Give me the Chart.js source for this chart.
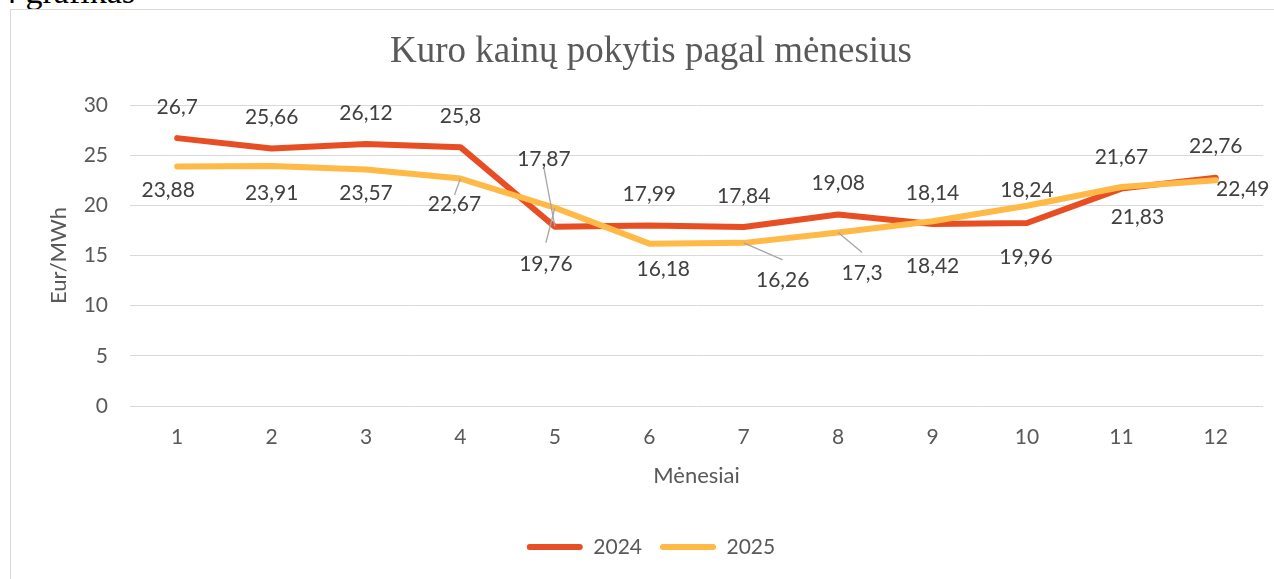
<!DOCTYPE html>
<html>
<head>
<meta charset="utf-8">
<script src="https://cdn.jsdelivr.net/npm/chart.js@4/dist/chart.umd.min.js"></script>
<style>
html,body{margin:0;padding:0;background:#fff;overflow:hidden;width:1274px;height:579px;}
#cap{position:absolute;left:0px;top:-25px;font:34px "Liberation Serif",serif;color:#000;white-space:nowrap;line-height:34px;}
#frame{position:absolute;left:10px;top:9px;width:1300px;height:620px;border:1px solid #d9d9d9;box-sizing:border-box;background:#fff;}
#wrap{position:absolute;left:0;top:0;width:1274px;height:579px;}
</style>
</head>
<body>
<div id="cap">4 grafikas</div>
<div id="frame"></div>
<div id="wrap"><canvas id="c" width="1274" height="579"></canvas></div>
<script>
// ---- data ----
const months = ['1','2','3','4','5','6','7','8','9','10','11','12'];
const seriesNames = ['2024','2025'];
const values2024 = [26.7, 25.66, 26.12, 25.8, 17.87, 17.99, 17.84, 19.08, 18.14, 18.24, 21.67, 22.76];
const values2025 = [23.88, 23.91, 23.57, 22.67, 19.76, 16.18, 16.26, 17.3, 18.42, 19.96, 21.83, 22.49];
const yMin = 0, yMax = 30, yStep = 5;
const chartTitle = 'Kuro kainų pokytis pagal mėnesius';
const xTitle = 'Mėnesiai';
const yTitle = 'Eur/MWh';

// ---- styling ----
const RED = '#E84E23';
const GOLD = '#FFB947';
const TXT = '#595959';
const LBL = '#404040';

// data-label placement (pixel offsets from the point; [dx, dy, leaderGap])
const labelPlacement = [
  [[0,-31],[0,-31],[0,-31],[0,-31],[-11,-67,8],[0,-31],[0,-31],[0,-31],[0,-31],[0,-33],[0,-31],[0,-31]],
  [[-9,24],[0,27],[0,23.5],[-6,25.5,9],[-9,56,21],[14,26],[39,37,20],[24,41,21],[0,45],[-1,51],[16,30],[27,9]]
];

Chart.defaults.font.family = 'Lato';
Chart.defaults.font.size = 21;
Chart.defaults.color = TXT;

const fmt = v => String(v).replace('.', ',');

const labelPlugin = {
  id: 'pointLabels',
  afterDatasetsDraw(chart) {
    const ctx = chart.ctx;
    ctx.save();
    ctx.font = '21px Lato';
    ctx.textAlign = 'center';
    ctx.textBaseline = 'middle';
    chart.data.datasets.forEach((ds, di) => {
      const meta = chart.getDatasetMeta(di);
      meta.data.forEach((pt, i) => {
        const p = labelPlacement[di][i];
        const lx = pt.x + p[0], ly = pt.y + p[1];
        if (p[2]) {
          const ey = ly + (p[1] < 0 ? p[2] : -p[2]);
          ctx.strokeStyle = '#a6a6a6';
          ctx.lineWidth = 1.3;
          ctx.beginPath();
          ctx.moveTo(pt.x, pt.y);
          ctx.lineTo(lx, ey);
          ctx.stroke();
        }
        ctx.fillStyle = LBL;
        ctx.fillText(fmt(ds.data[i]), lx, ly);
      });
    });
    ctx.restore();
  }
};

new Chart(document.getElementById('c'), {
  type: 'line',
  data: {
    labels: months,
    datasets: [
      { label: seriesNames[0], data: values2024, borderColor: RED, backgroundColor: RED, order: 1 },
      { label: seriesNames[1], data: values2025, borderColor: GOLD, backgroundColor: GOLD, order: 0 }
    ]
  },
  options: {
    responsive: false,
    animation: false,
    events: [],
    layout: { padding: { left: 39, right: 11, top: 0, bottom: 11.5 } },
    elements: {
      line: { borderWidth: 6, tension: 0, borderJoinStyle: 'round', borderCapStyle: 'round', fill: false },
      point: { radius: 0, hoverRadius: 0 }
    },
    scales: {
      x: {
        offset: true,
        grid: { display: false, drawTicks: false },
        border: { display: false },
        ticks: { padding: 18.5, color: TXT, font: { size: 21 } },
        title: { display: true, text: xTitle, color: TXT, font: { size: 22 }, padding: { top: 0, bottom: 29.3 } },
        afterFit(scale) { scale.height = 112.5; }
      },
      y: {
        min: yMin, max: yMax,
        grid: { color: '#d9d9d9', lineWidth: 1, drawTicks: false },
        border: { display: false },
        ticks: { stepSize: yStep, padding: 22, color: TXT, font: { size: 21 } },
        title: { display: true, text: yTitle, color: TXT, font: { size: 22 }, padding: { top: 6.8, bottom: 0 } },
        afterFit(scale) { scale.width = 91; }
      }
    },
    plugins: {
      title: {
        display: true, text: chartTitle, color: TXT,
        font: { family: 'Liberation Serif', size: 37, weight: 'normal' },
        padding: { top: 29.8, bottom: 30.8 }
      },
      legend: {
        position: 'bottom',
        labels: {
          boxWidth: 56, boxHeight: 6, padding: 18, color: TXT,
          font: { size: 21 },
          useBorderRadius: true, borderRadius: 3,
          sort: (a, b) => a.datasetIndex - b.datasetIndex,
          generateLabels(chart) {
            return Chart.defaults.plugins.legend.labels.generateLabels(chart).map(l => Object.assign(l, { lineWidth: 0 }));
          }
        }
      },
      tooltip: { enabled: false }
    }
  },
  plugins: [labelPlugin]
});
</script>
</body>
</html>
